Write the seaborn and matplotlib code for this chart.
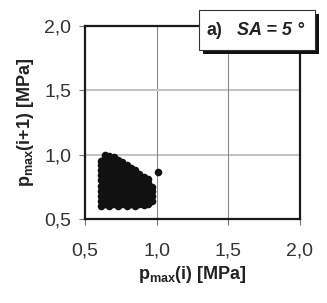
import numpy as np
import pandas as pd
import seaborn as sns
import matplotlib.pyplot as plt
from matplotlib.patches import Rectangle

col_x = [0.61, 0.64, 0.67, 0.70, 0.73, 0.76, 0.79, 0.82, 0.85, 0.88, 0.91, 0.94, 0.97]
col_y = [
    [0.60, 0.64, 0.68, 0.72, 0.76, 0.80, 0.84, 0.88, 0.92, 0.95],
    [0.62, 0.66, 0.70, 0.74, 0.78, 0.82, 0.86, 0.90, 0.94, 0.98, 1.00],
    [0.60, 0.64, 0.68, 0.72, 0.76, 0.80, 0.84, 0.88, 0.92, 0.96, 0.99],
    [0.62, 0.66, 0.70, 0.74, 0.78, 0.82, 0.86, 0.90, 0.94, 0.98],
    [0.60, 0.64, 0.68, 0.72, 0.76, 0.80, 0.84, 0.88, 0.92, 0.96],
    [0.62, 0.66, 0.70, 0.74, 0.78, 0.82, 0.86, 0.90, 0.94],
    [0.60, 0.64, 0.68, 0.72, 0.76, 0.80, 0.84, 0.88, 0.92],
    [0.62, 0.66, 0.70, 0.74, 0.78, 0.82, 0.86, 0.90],
    [0.60, 0.64, 0.68, 0.72, 0.76, 0.80, 0.84, 0.88],
    [0.62, 0.66, 0.70, 0.74, 0.78, 0.82, 0.85],
    [0.61, 0.65, 0.69, 0.73, 0.77, 0.81, 0.83],
    [0.62, 0.66, 0.70, 0.74, 0.78, 0.81],
    [0.64, 0.68, 0.72, 0.75],
]
outlier_x = [1.01]
outlier_y = [0.865]

ticks = [0.5, 1.0, 1.5, 2.0]
tick_labels = ['0,5', '1,0', '1,5', '2,0']

xs, ys = [], []
for x, yl in zip(col_x, col_y):
    xs += [x] * len(yl)
    ys += yl
xs += outlier_x
ys += outlier_y
df = pd.DataFrame({'pi': xs, 'pi1': ys})

sns.set_style('white')
plt.rcParams['font.family'] = ['Liberation Sans', 'DejaVu Sans']
plt.rcParams['mathtext.default'] = 'regular'

fig = plt.figure(figsize=(3.27, 3.03), dpi=100)
ax = fig.add_axes([0.26, 0.277, 0.657, 0.637])

sns.scatterplot(data=df, x='pi', y='pi1', ax=ax, color='#111111',
                s=30, linewidth=0, zorder=3)

ax.set_xlim(0.5, 2.0)
ax.set_ylim(0.5, 2.0)
ax.set_xticks(ticks)
ax.set_yticks(ticks)
ax.set_xticklabels(tick_labels)
ax.set_yticklabels(tick_labels)

for v in [1.0, 1.5]:
    ax.axhline(v, color='#c4c4c4', lw=1.5, zorder=1)
    ax.axvline(v, color='#8a8a8a', lw=0.8, zorder=1)

for s in ax.spines.values():
    s.set_color('#1a1a1a')
    s.set_linewidth(1.6)

ax.tick_params(axis='x', direction='out', length=4, width=0.8, color='#777777',
               pad=13, labelsize=14, labelcolor='#333333', bottom=True)
ax.tick_params(axis='y', direction='out', length=4, width=0.8, color='#777777',
               pad=6, labelsize=14, labelcolor='#333333', left=True)

ax.set_xlabel('p$_{max}$(i) [MPa]', fontsize=13, fontweight='bold',
              color='#222222', labelpad=3)
ax.set_ylabel('p$_{max}$(i+1) [MPa]', fontsize=13, fontweight='bold',
              color='#222222', labelpad=6)

# label box with drop shadow
fig.patches.append(Rectangle((0.62, 0.822), 0.355, 0.133, transform=fig.transFigure,
                             facecolor='#111111', edgecolor='none', zorder=5))
fig.patches.append(Rectangle((0.609, 0.835), 0.355, 0.133, transform=fig.transFigure,
                             facecolor='white', edgecolor='#333333', lw=0.8, zorder=6))
fig.text(0.63, 0.9, 'a)', fontsize=13, fontweight='bold', va='center',
         color='#222222', zorder=7)
fig.text(0.725, 0.9, 'SA = 5 °', fontsize=13, fontweight='bold', style='italic',
         va='center', color='#222222', zorder=7)

fig.savefig('out.png', dpi=100)
